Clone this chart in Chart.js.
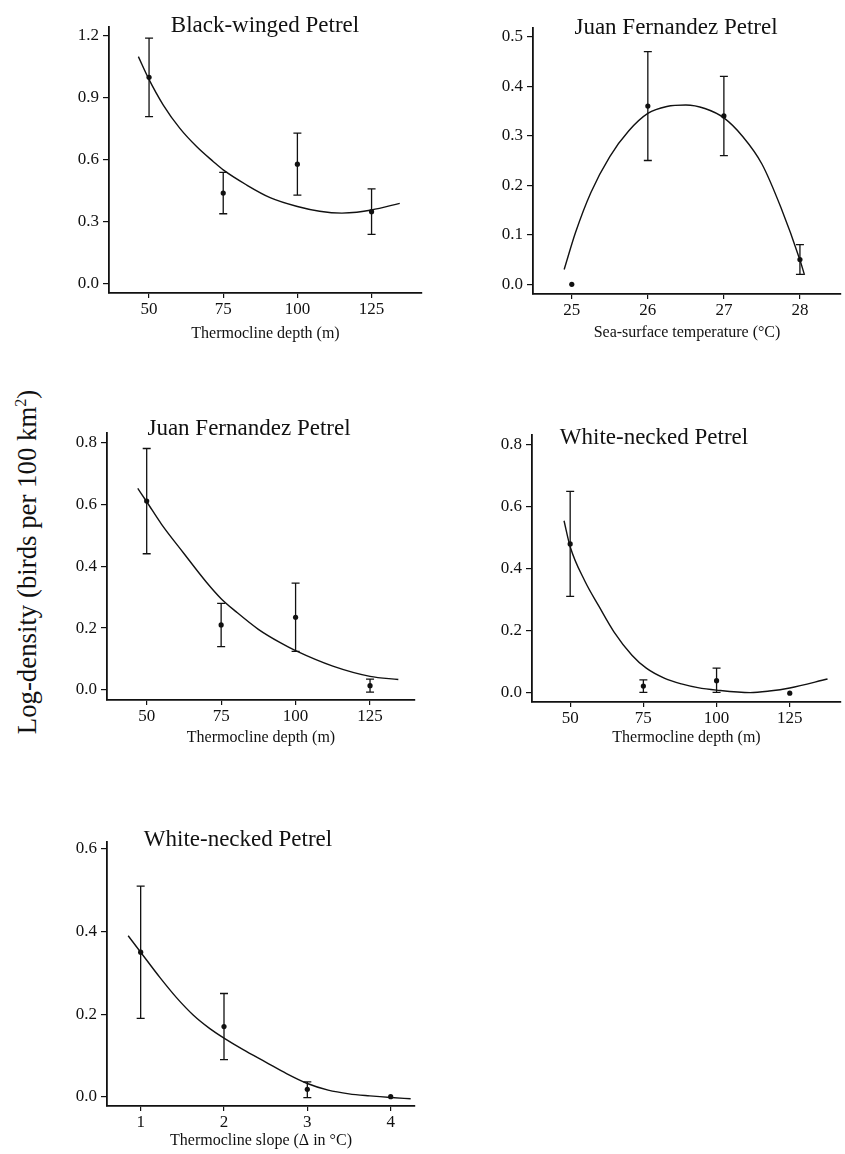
<!DOCTYPE html>
<html>
<head>
<meta charset="utf-8">
<script src="https://cdn.jsdelivr.net/npm/chart.js@4.4.1/dist/chart.umd.min.js"></script>
<style>
  body { margin: 0; background: #fff; }
  #page { position: relative; width: 845px; height: 1154px; overflow: hidden; background: #fff; }
  #page canvas { position: absolute; }
  .ptitle, #ylabel {
    position: absolute; white-space: nowrap; color: #111;
    font-family: "Liberation Serif", "Times New Roman", serif;
  }
  .ptitle { font-size: 23px; line-height: 23px; transform: translate(-50%, -50%); }
  #ylabel {
    left: 27px; top: 562px; font-size: 26.8px;
    transform: translate(-50%, -50%) rotate(-90deg);
  }
  #ylabel sup { font-size: 0.6em; line-height: 0; }
</style>
</head>
<body>
<div id="page">
  <div id="ylabel">Log-density (birds per 100 km<sup>2</sup>)</div>
</div>
<script>
// tick values
const depthTicks = [50, 75, 100, 125];
const sstTicks = [25, 26, 27, 28];
const slopeTicks = [1, 2, 3, 4];

// Black-winged Petrel vs thermocline depth
const bwDepthX = [50, 75, 100, 125];
const bwDepthMean = [1.00, 0.44, 0.58, 0.35];
const bwDepthLow = [0.81, 0.34, 0.43, 0.24];
const bwDepthHigh = [1.19, 0.54, 0.73, 0.46];
const bwDepthFitX = [46.4, 49.8, 54.8, 60.4, 66.1, 71.7, 75, 82.9, 90.8, 100, 107.5, 115, 120, 125, 134.5];
const bwDepthFitY = [1.10, 0.995, 0.866, 0.753, 0.664, 0.592, 0.552, 0.479, 0.418, 0.375, 0.352, 0.343, 0.347, 0.358, 0.39];
const bwDepthYTicks = [0, 0.3, 0.6, 0.9, 1.2];

// Juan Fernandez Petrel vs sea-surface temperature
const jfSstX = [25, 26, 27, 28];
const jfSstMean = [0.0, 0.36, 0.34, 0.05];
const jfSstLow = [0.0, 0.25, 0.26, 0.02];
const jfSstHigh = [0.0, 0.47, 0.42, 0.08];
const jfSstFitX = [24.9, 25.05, 25.25, 25.5, 25.75, 26, 26.25, 26.5, 26.75, 27, 27.25, 27.5, 27.75, 28, 28.06];
const jfSstFitY = [0.03, 0.105, 0.185, 0.258, 0.31, 0.345, 0.359, 0.362, 0.355, 0.336, 0.298, 0.243, 0.155, 0.049, 0.019];
const jfSstYTicks = [0, 0.1, 0.2, 0.3, 0.4, 0.5];

// Juan Fernandez Petrel vs thermocline depth
const jfDepthX = [50, 75, 100, 125];
const jfDepthMean = [0.61, 0.21, 0.235, 0.014];
const jfDepthLow = [0.44, 0.14, 0.125, -0.007];
const jfDepthHigh = [0.78, 0.28, 0.345, 0.035];
const jfDepthFitX = [47, 50, 55, 62.5, 70, 75, 80, 87.5, 95, 100, 112.5, 125, 134.5];
const jfDepthFitY = [0.651, 0.608, 0.535, 0.441, 0.349, 0.295, 0.253, 0.196, 0.152, 0.127, 0.077, 0.044, 0.034];
const jfDepthYTicks = [0, 0.2, 0.4, 0.6, 0.8];

// White-necked Petrel vs thermocline depth
const wnDepthX = [50, 75, 100, 125];
const wnDepthMean = [0.48, 0.02, 0.0375, -0.003];
const wnDepthLow = [0.31, 0.0, 0.0, -0.003];
const wnDepthHigh = [0.65, 0.04, 0.078, -0.003];
const wnDepthFitX = [47.9, 50, 55, 59.9, 65, 71.1, 76, 82.3, 88, 93.6, 100, 111.5, 118, 125, 137.9];
const wnDepthFitY = [0.555, 0.471, 0.36, 0.277, 0.195, 0.12, 0.078, 0.045, 0.027, 0.015, 0.007, -0.001, 0.004, 0.014, 0.043];
const wnDepthYTicks = [0, 0.2, 0.4, 0.6, 0.8];

// White-necked Petrel vs thermocline slope
const wnSlopeX = [1, 2, 3, 4];
const wnSlopeMean = [0.35, 0.17, 0.018, 0.0];
const wnSlopeLow = [0.19, 0.09, -0.002, 0.0];
const wnSlopeHigh = [0.51, 0.25, 0.036, 0.0];
const wnSlopeFitX = [0.85, 1.0, 1.23, 1.43, 1.63, 1.83, 2.0, 2.23, 2.5, 2.75, 3.0, 3.25, 3.5, 3.75, 4.0, 4.24];
const wnSlopeFitY = [0.39, 0.35, 0.289, 0.24, 0.198, 0.165, 0.142, 0.114, 0.084, 0.056, 0.032, 0.016, 0.007, 0.002, -0.002, -0.005];
const wnSlopeYTicks = [0, 0.2, 0.4, 0.6];

const INK = '#111';
const SERIF = '"Liberation Serif", "Times New Roman", serif';

// vertical error bars with small caps, drawn from errLow / errHigh on the dataset
const errorBars = {
  id: 'errorBars',
  afterDatasetsDraw(chart) {
    const ctx = chart.ctx;
    const sx = chart.scales.x, sy = chart.scales.y;
    chart.data.datasets.forEach(ds => {
      if (!ds.errLow) return;
      ctx.save();
      ctx.strokeStyle = INK;
      ctx.lineWidth = 1.3;
      ds.data.forEach((p, i) => {
        const lo = ds.errLow[i], hi = ds.errHigh[i];
        if (lo === hi) return;
        const x = sx.getPixelForValue(p.x);
        const y1 = sy.getPixelForValue(lo), y2 = sy.getPixelForValue(hi);
        ctx.beginPath();
        ctx.moveTo(x, y1); ctx.lineTo(x, y2);
        ctx.moveTo(x - 4, y1); ctx.lineTo(x + 4, y1);
        ctx.moveTo(x - 4, y2); ctx.lineTo(x + 4, y2);
        ctx.stroke();
      });
      ctx.restore();
    });
  }
};

function pairs(xs, ys) {
  return xs.map((x, i) => ({ x: x, y: ys[i] }));
}

// box: plot area edges (l,t,r,b), panel title centre (tx,ty), x-title centre y (xty)
function makePanel(box, o) {
  const page = document.getElementById('page');
  const xTitleLH = 16 * 1.2;
  const yw = 56;
  const CT = box.t - 20, CB = box.b + 52;
  const extra = box.r >= 840 ? 0 : 8;
  const CL = box.l - yw;
  const W = box.r + extra - CL, H = CB - CT;

  const head = document.createElement('div');
  head.className = 'ptitle';
  head.textContent = o.title;
  head.style.left = box.tx + 'px';
  head.style.top = box.ty + 'px';

  const canvas = document.createElement('canvas');
  canvas.width = W; canvas.height = H;
  canvas.style.left = CL + 'px'; canvas.style.top = CT + 'px';
  page.appendChild(canvas);
  page.appendChild(head);

  new Chart(canvas, {
    type: 'scatter',
    data: {
      datasets: [{
        data: pairs(o.fitX, o.fitY),
        showLine: true,
        cubicInterpolationMode: 'monotone',
        borderColor: INK,
        borderWidth: 1.4,
        pointRadius: 0
      }, {
        data: pairs(o.x, o.mean),
        errLow: o.low,
        errHigh: o.high,
        pointRadius: 2.6,
        backgroundColor: INK,
        borderColor: INK,
        borderWidth: 0
      }]
    },
    options: {
      responsive: false,
      animation: false,
      layout: { padding: { left: 0, right: extra, top: 20, bottom: 0 } },
      plugins: {
        legend: { display: false },
        tooltip: { enabled: false },
        title: { display: false }
      },
      scales: {
        x: {
          type: 'linear',
          min: o.xMin, max: o.xMax,
          afterBuildTicks: s => { s.ticks = o.xTicks.map(v => ({ value: v })); },
          afterFit: s => { s.height = CB - box.b; },
          ticks: {
            color: INK, padding: 1, maxRotation: 0, autoSkip: false,
            font: { family: SERIF, size: 17 },
            callback: v => String(v)
          },
          grid: { drawOnChartArea: false, drawTicks: true, tickLength: 5, color: INK, lineWidth: 1.2 },
          border: { display: true, color: INK, width: 1.8 },
          title: {
            display: true, text: o.xTitle, color: INK,
            font: { family: SERIF, size: 16 },
            padding: { top: 0, bottom: CB - box.xty - xTitleLH / 2 }
          }
        },
        y: {
          type: 'linear',
          min: o.yMin, max: o.yMax,
          afterBuildTicks: s => { s.ticks = o.yTicks.map(v => ({ value: v })); },
          afterFit: s => { s.width = yw; },
          ticks: {
            color: INK, padding: 4, autoSkip: false,
            font: { family: SERIF, size: 17 },
            callback: v => v.toFixed(1)
          },
          grid: { drawOnChartArea: false, drawTicks: true, tickLength: 6, color: INK, lineWidth: 1.2 },
          border: { display: true, color: INK, width: 1.8 }
        }
      }
    },
    plugins: [errorBars]
  });
}

makePanel({ l: 109, t: 27, r: 422, b: 293, tx: 265, ty: 24, xty: 334 }, {
  title: 'Black-winged Petrel', xTitle: 'Thermocline depth (m)',
  xMin: 36.5, xMax: 142, yMin: -0.0435, yMax: 1.2435,
  xTicks: depthTicks, yTicks: bwDepthYTicks,
  x: bwDepthX, mean: bwDepthMean, low: bwDepthLow, high: bwDepthHigh,
  fitX: bwDepthFitX, fitY: bwDepthFitY
});

makePanel({ l: 533, t: 28, r: 845, b: 294, tx: 676, ty: 26, xty: 333 }, {
  title: 'Juan Fernandez Petrel', xTitle: 'Sea-surface temperature (\u00B0C)',
  xMin: 24.49, xMax: 28.54, yMin: -0.0196, yMax: 0.5176,
  xTicks: sstTicks, yTicks: jfSstYTicks,
  x: jfSstX, mean: jfSstMean, low: jfSstLow, high: jfSstHigh,
  fitX: jfSstFitX, fitY: jfSstFitY
});

makePanel({ l: 107, t: 433, r: 415, b: 700, tx: 249, ty: 427, xty: 738 }, {
  title: 'Juan Fernandez Petrel', xTitle: 'Thermocline depth (m)',
  xMin: 36.67, xMax: 140.1, yMin: -0.0323, yMax: 0.830,
  xTicks: depthTicks, yTicks: jfDepthYTicks,
  x: jfDepthX, mean: jfDepthMean, low: jfDepthLow, high: jfDepthHigh,
  fitX: jfDepthFitX, fitY: jfDepthFitY
});

makePanel({ l: 532, t: 435, r: 845, b: 702, tx: 654, ty: 436, xty: 738 }, {
  title: 'White-necked Petrel', xTitle: 'Thermocline depth (m)',
  xMin: 36.96, xMax: 142.5, yMin: -0.0314, yMax: 0.8324,
  xTicks: depthTicks, yTicks: wnDepthYTicks,
  x: wnDepthX, mean: wnDepthMean, low: wnDepthLow, high: wnDepthHigh,
  fitX: wnDepthFitX, fitY: wnDepthFitY
});

makePanel({ l: 107, t: 842, r: 415, b: 1106, tx: 238, ty: 838, xty: 1141 }, {
  title: 'White-necked Petrel', xTitle: 'Thermocline slope (\u0394 in \u00B0C)',
  xMin: 0.596, xMax: 4.292, yMin: -0.0225, yMax: 0.617,
  xTicks: slopeTicks, yTicks: wnSlopeYTicks,
  x: wnSlopeX, mean: wnSlopeMean, low: wnSlopeLow, high: wnSlopeHigh,
  fitX: wnSlopeFitX, fitY: wnSlopeFitY
});
</script>
</body>
</html>
